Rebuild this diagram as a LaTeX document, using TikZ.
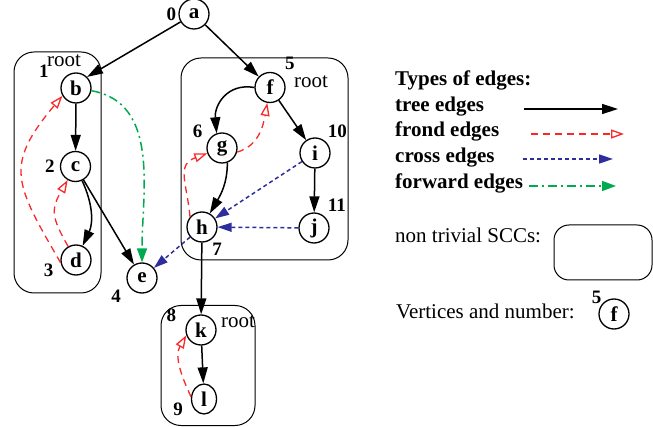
\documentclass[tikz,border=0pt]{standalone}
\usepackage{fontspec}
\setmainfont{Liberation Serif}
\usetikzlibrary{arrows.meta,shapes.geometric}
\definecolor{frondred}{RGB}{250,40,40}
\definecolor{crossblue}{RGB}{45,45,155}
\definecolor{fwdgreen}{RGB}{0,170,80}
\begin{document}
\begin{tikzpicture}[x=1pt,y=1pt]

      \tikzset{vertex/.style={draw, circle, line width=1.3pt, inner sep=0pt, minimum size=30pt, font=\fontsize{21}{25}\selectfont\bfseries},
               num/.style={inner sep=1pt, font=\fontsize{19}{22}\selectfont\bfseries},
               txt/.style={inner sep=0pt, anchor=base west, font=\fontsize{21}{25}\selectfont},
               scc/.style={draw, rounded corners=20pt, line width=1pt, inner sep=0pt},
               treeedge/.style={draw=black, line width=1.5pt, -{Triangle[length=16pt,width=10pt]}},
               frondedge/.style={draw=frondred, line width=1.3pt, dash pattern=on 7pt off 5pt, -{Triangle[open,length=13pt,width=9pt]}},
               crossedge/.style={draw=crossblue, line width=1.5pt, dash pattern=on 4pt off 3pt, -{Triangle[length=14pt,width=9pt]}},
               fwdedge/.style={draw=fwdgreen, line width=1.5pt, dash pattern=on 9pt off 4pt on 2pt off 4pt, -{Triangle[length=14pt,width=10pt]}}}
      \useasboundingbox (0,0) rectangle (653,-427);
%% SCC boxes
      	\node[scc, minimum width=87pt, minimum height=241pt] (sccB) at (57.5,-172.5) {};
      	\node[scc, minimum width=167pt, minimum height=202pt] (sccF) at (264.5,-159) {};
      	\node[scc, minimum width=94pt, minimum height=120pt] (sccK) at (208,-365.5) {};
      	\node[txt] (rootB) at (47,-67) {root};
      	\node[txt] (rootF) at (294,-88) {root};
      	\node[txt] (rootK) at (221,-328) {root};
%% Vertices
      	\node[vertex, label={[num, label distance=1pt]left:0}] (a) at (194,-14) {a};
      	\node[vertex, label={[num, label distance=12pt]161:1}] (b) at (76,-88) {b};
      	\node[vertex, label={[num, label distance=4pt]left:2}] (c) at (75.5,-166.5) {c};
      	\node[vertex, label={[num, label distance=6pt]186:3}] (d) at (76,-260) {d};
      	\node[vertex, label={[num, label distance=7pt]209:4}] (e) at (142,-278) {e};
      	\node[vertex, label={[num, label distance=6pt]50:5}] (f) at (270,-87.5) {f};
      	\node[vertex, label={[num, label distance=5pt]153:6}] (g) at (222,-148) {g};
      	\node[vertex, label={[num, label distance=2pt]-59:7}] (h) at (202,-227) {h};
      	\node[vertex, label={[num, label distance=3pt]51:10}] (i) at (315,-153) {i};
      	\node[vertex, label={[num, label distance=4pt]50:11}] (j) at (314,-228) {j};
      	\node[vertex, label={[num, label distance=9pt]163:8}] (k) at (201,-330) {k};
      	\node[vertex, ellipse, minimum width=25pt, minimum height=30pt, label={[num, label distance=7pt]188:9}] (l) at (204,-399) {l};
%Edges
		\path (a) edge[treeedge] (b.north east);
		\path (a) edge[treeedge] (f);
		\path (b) edge[treeedge] (c);
		\path (c.-65) edge[treeedge, out=-65, in=65] (d.65);
		\path (c) edge[treeedge] (e);
		\path (f.180) edge[treeedge, out=170, in=95, looseness=1.2] (g.110);
		\path (g.-70) edge[treeedge, out=-90, in=60] (h);
		\path (f) edge[treeedge] (i);
		\path (i) edge[treeedge] (j);
		\path (h) edge[treeedge] (k);
		\path (k) edge[treeedge] (l);
		\path (d.120) edge[frondedge, out=120, in=-120, looseness=1.3] (c);
		\path (d.190) edge[frondedge, out=120, in=-130, looseness=1.4] (b.210);
		\path (g.-15) edge[frondedge, out=15, in=-100] (f);
		\path (h.140) edge[frondedge, out=95, in=200, looseness=1.3] (g);
		\path (l.170) edge[frondedge, out=115, in=-120] (k.200);
		\path (i) edge[crossedge] (h);
		\path (j) edge[crossedge] (h);
		\path (h) edge[crossedge] (e);
		\path (b.-10) edge[fwdedge, out=-10, in=90] (e);
%% Legend
      	\node[txt, font=\fontsize{21}{25}\selectfont\bfseries] (types) at (395,-86) {Types of edges:};
      	\node[txt, font=\fontsize{21}{25}\selectfont\bfseries] (treeTxt) at (395,-112) {tree edges};
      	\node[txt, font=\fontsize{21}{25}\selectfont\bfseries] (frondTxt) at (395,-137) {frond edges};
      	\node[txt, font=\fontsize{21}{25}\selectfont\bfseries] (crossTxt) at (395,-163) {cross edges};
      	\node[txt, font=\fontsize{21}{25}\selectfont\bfseries] (fwdTxt) at (395,-189) {forward edges};
      	\coordinate (treeA) at (524,-109);  \coordinate (treeB) at (618,-109);
      	\coordinate (frondA) at (531,-134); \coordinate (frondB) at (624,-134);
      	\coordinate (crossA) at (523,-159); \coordinate (crossB) at (613,-159);
      	\coordinate (fwdA) at (529,-186);   \coordinate (fwdB) at (616,-186);
		\path (treeA) edge[treeedge] (treeB);
		\path (frondA) edge[frondedge] (frondB);
		\path (crossA) edge[crossedge] (crossB);
		\path (fwdA) edge[fwdedge] (fwdB);
      	\node[txt] (sccTxt) at (395,-243) {non trivial SCCs:};
      	\node[scc, rounded corners=15pt, minimum width=98pt, minimum height=55pt] (sccLeg) at (603,-252.5) {};
      	\node[txt] (vertTxt) at (396,-319) {Vertices and number:};
      	\node[vertex, label={[num, label distance=-1pt]142:5}] (fLeg) at (614,-314) {f};

	\end{tikzpicture}
\end{document}
